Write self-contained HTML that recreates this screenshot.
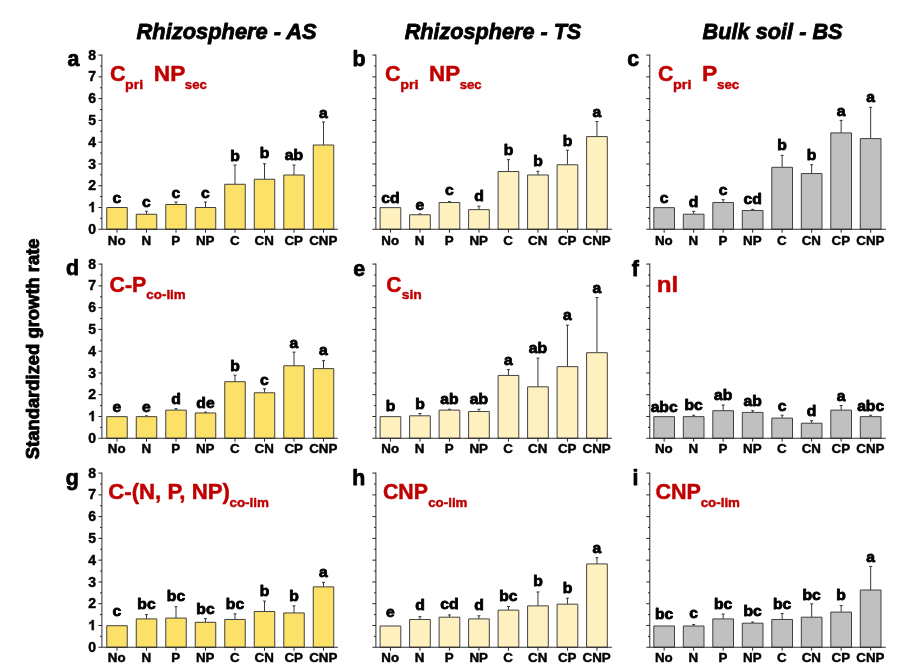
<!DOCTYPE html>
<html><head><meta charset="utf-8"><title>Standardized growth rate</title>
<style>html,body{margin:0;padding:0;background:#fff}svg{display:block;will-change:transform}text{stroke-width:0.45px;paint-order:stroke fill}text[fill="#000"]{stroke:#000}text.L{stroke-width:0.8px}text.Y{stroke-width:0.9px}text.T{stroke-width:0.8px}text.P{stroke-width:0.75px}text[fill="#C00000"]{stroke:#C00000}</style></head>
<body>
<svg width="902" height="672" viewBox="0 0 902 672" font-family="'Liberation Sans', sans-serif" font-weight="bold" stroke-linejoin="round">
<rect width="902" height="672" fill="#fff"/>
<text x="226.6" y="38.9" class="T" font-size="21.33" font-style="italic" text-anchor="middle" textLength="180.2" lengthAdjust="spacingAndGlyphs" fill="#000">Rhizosphere - AS</text>
<text x="493.0" y="38.9" class="T" font-size="21.33" font-style="italic" text-anchor="middle" textLength="176.6" lengthAdjust="spacingAndGlyphs" fill="#000">Rhizosphere - TS</text>
<text x="772.6" y="38.9" class="T" font-size="21.33" font-style="italic" text-anchor="middle" textLength="140.0" lengthAdjust="spacingAndGlyphs" fill="#000">Bulk soil - BS</text>
<text transform="translate(38.6,348.8) rotate(-90)" class="Y" font-size="18.6" textLength="220.8" lengthAdjust="spacingAndGlyphs" text-anchor="middle" fill="#000">Standardized growth rate</text>
<g><rect x="106.75" y="207.50" width="20.5" height="21.75" fill="#FCE168" stroke="#383838" stroke-width="0.95"/><text class="L" x="117.00" y="202.50" font-size="14.67" text-anchor="middle" textLength="8.73" lengthAdjust="spacingAndGlyphs" fill="#000">c</text><text x="116.70" y="245.45" font-size="13.33" text-anchor="middle" fill="#000">No</text><path d="M117.00 229.25v3.4" stroke="#222" stroke-width="1"/><path d="M146.50 214.25V211.25M145.00 211.25H148.00" stroke="#222" stroke-width="0.9" fill="none"/><rect x="136.25" y="214.25" width="20.5" height="15.00" fill="#FCE168" stroke="#383838" stroke-width="0.95"/><text class="L" x="146.50" y="207.00" font-size="14.67" text-anchor="middle" textLength="8.73" lengthAdjust="spacingAndGlyphs" fill="#000">c</text><text x="146.20" y="245.45" font-size="13.33" text-anchor="middle" fill="#000">N</text><path d="M146.50 229.25v3.4" stroke="#222" stroke-width="1"/><path d="M176.00 204.50V202.00M174.50 202.00H177.50" stroke="#222" stroke-width="0.9" fill="none"/><rect x="165.75" y="204.50" width="20.5" height="24.75" fill="#FCE168" stroke="#383838" stroke-width="0.95"/><text class="L" x="176.00" y="197.50" font-size="14.67" text-anchor="middle" textLength="8.73" lengthAdjust="spacingAndGlyphs" fill="#000">c</text><text x="175.70" y="245.45" font-size="13.33" text-anchor="middle" fill="#000">P</text><path d="M176.00 229.25v3.4" stroke="#222" stroke-width="1"/><path d="M205.50 207.50V202.00M204.00 202.00H207.00" stroke="#222" stroke-width="0.9" fill="none"/><rect x="195.25" y="207.50" width="20.5" height="21.75" fill="#FCE168" stroke="#383838" stroke-width="0.95"/><text class="L" x="205.50" y="197.50" font-size="14.67" text-anchor="middle" textLength="8.73" lengthAdjust="spacingAndGlyphs" fill="#000">c</text><text x="205.20" y="245.45" font-size="13.33" text-anchor="middle" fill="#000">NP</text><path d="M205.50 229.25v3.4" stroke="#222" stroke-width="1"/><path d="M235.00 184.25V165.00M233.50 165.00H236.50" stroke="#222" stroke-width="0.9" fill="none"/><rect x="224.75" y="184.25" width="20.5" height="45.00" fill="#FCE168" stroke="#383838" stroke-width="0.95"/><text class="L" x="235.00" y="160.50" font-size="14.67" text-anchor="middle" textLength="9.59" lengthAdjust="spacingAndGlyphs" fill="#000">b</text><text x="234.70" y="245.45" font-size="13.33" text-anchor="middle" fill="#000">C</text><path d="M235.00 229.25v3.4" stroke="#222" stroke-width="1"/><path d="M264.50 179.25V163.75M263.00 163.75H266.00" stroke="#222" stroke-width="0.9" fill="none"/><rect x="254.25" y="179.25" width="20.5" height="50.00" fill="#FCE168" stroke="#383838" stroke-width="0.95"/><text class="L" x="264.50" y="158.25" font-size="14.67" text-anchor="middle" textLength="9.59" lengthAdjust="spacingAndGlyphs" fill="#000">b</text><text x="264.20" y="245.45" font-size="13.33" text-anchor="middle" fill="#000">CN</text><path d="M264.50 229.25v3.4" stroke="#222" stroke-width="1"/><path d="M294.00 175.00V165.00M292.50 165.00H295.50" stroke="#222" stroke-width="0.9" fill="none"/><rect x="283.75" y="175.00" width="20.5" height="54.25" fill="#FCE168" stroke="#383838" stroke-width="0.95"/><text class="L" x="294.00" y="160.00" font-size="14.67" text-anchor="middle" textLength="18.32" lengthAdjust="spacingAndGlyphs" fill="#000">ab</text><text x="293.70" y="245.45" font-size="13.33" text-anchor="middle" fill="#000">CP</text><path d="M294.00 229.25v3.4" stroke="#222" stroke-width="1"/><path d="M323.50 145.00V122.00M322.00 122.00H325.00" stroke="#222" stroke-width="0.9" fill="none"/><rect x="313.25" y="145.00" width="20.5" height="84.25" fill="#FCE168" stroke="#383838" stroke-width="0.95"/><text class="L" x="323.50" y="118.30" font-size="14.67" text-anchor="middle" textLength="8.73" lengthAdjust="spacingAndGlyphs" fill="#000">a</text><text x="323.20" y="245.45" font-size="13.33" text-anchor="middle" fill="#000">CNP</text><path d="M323.50 229.25v3.4" stroke="#222" stroke-width="1"/><path d="M101.90 54.59V229.25M98.40 229.25H337.90" stroke="#222" stroke-width="0.95" fill="none"/><text x="96.00" y="233.85" font-size="14" text-anchor="end" fill="#000">0</text><path d="M100.10 218.37H101.90" stroke="#222" stroke-width="1"/><path d="M98.40 207.48H101.90" stroke="#222" stroke-width="1"/><path transform="translate(88.21,212.08) scale(0.006836,-0.006836)" d="M806 0H525V1059Q371 915 162 846V1101Q272 1137 401 1237.5Q530 1338 578 1472H806Z" fill="#000" stroke="#000" stroke-width="65.8" stroke-linejoin="round"/><path d="M100.10 196.59H101.90" stroke="#222" stroke-width="1"/><path d="M98.40 185.71H101.90" stroke="#222" stroke-width="1"/><text x="96.00" y="190.31" font-size="14" text-anchor="end" fill="#000">2</text><path d="M100.10 174.82H101.90" stroke="#222" stroke-width="1"/><path d="M98.40 163.94H101.90" stroke="#222" stroke-width="1"/><text x="96.00" y="168.54" font-size="14" text-anchor="end" fill="#000">3</text><path d="M100.10 153.06H101.90" stroke="#222" stroke-width="1"/><path d="M98.40 142.17H101.90" stroke="#222" stroke-width="1"/><text x="96.00" y="146.77" font-size="14" text-anchor="end" fill="#000">4</text><path d="M100.10 131.28H101.90" stroke="#222" stroke-width="1"/><path d="M98.40 120.40H101.90" stroke="#222" stroke-width="1"/><text x="96.00" y="125.00" font-size="14" text-anchor="end" fill="#000">5</text><path d="M100.10 109.52H101.90" stroke="#222" stroke-width="1"/><path d="M98.40 98.63H101.90" stroke="#222" stroke-width="1"/><text x="96.00" y="103.23" font-size="14" text-anchor="end" fill="#000">6</text><path d="M100.10 87.75H101.90" stroke="#222" stroke-width="1"/><path d="M98.40 76.86H101.90" stroke="#222" stroke-width="1"/><text x="96.00" y="81.46" font-size="14" text-anchor="end" fill="#000">7</text><path d="M100.10 65.97H101.90" stroke="#222" stroke-width="1"/><path d="M98.40 55.09H101.90" stroke="#222" stroke-width="1"/><text x="96.00" y="59.69" font-size="14" text-anchor="end" fill="#000">8</text><text class="P" x="67.44999999999999" y="66.0" font-size="21.33" fill="#000">a</text><text x="110.01" y="81.20" font-size="21.33" textLength="15.68" lengthAdjust="spacingAndGlyphs" fill="#C00000">C</text><text x="125.07" y="89.00" font-size="13.33" textLength="18.1" lengthAdjust="spacingAndGlyphs" fill="#C00000">pri</text><text x="153.84" y="81.20" font-size="21.33" textLength="31.52" lengthAdjust="spacingAndGlyphs" fill="#C00000">NP</text><text x="184.83" y="89.00" font-size="13.33" textLength="21.98" lengthAdjust="spacingAndGlyphs" fill="#C00000">sec</text></g>
<g><rect x="380.10" y="207.65" width="20.7" height="21.60" fill="#FEF1BF" stroke="#383838" stroke-width="0.95"/><text class="L" x="390.45" y="202.82" font-size="14.67" text-anchor="middle" textLength="18.32" lengthAdjust="spacingAndGlyphs" fill="#000">cd</text><text x="390.15" y="245.45" font-size="13.33" text-anchor="middle" fill="#000">No</text><path d="M390.45 229.25v3.4" stroke="#222" stroke-width="1"/><path d="M419.95 214.76V213.90M418.45 213.90H421.45" stroke="#222" stroke-width="0.9" fill="none"/><rect x="409.60" y="214.76" width="20.7" height="14.49" fill="#FEF1BF" stroke="#383838" stroke-width="0.95"/><text class="L" x="419.95" y="210.21" font-size="14.67" text-anchor="middle" textLength="8.73" lengthAdjust="spacingAndGlyphs" fill="#000">e</text><text x="419.65" y="245.45" font-size="13.33" text-anchor="middle" fill="#000">N</text><path d="M419.95 229.25v3.4" stroke="#222" stroke-width="1"/><path d="M449.45 202.53V201.68M447.95 201.68H450.95" stroke="#222" stroke-width="0.9" fill="none"/><rect x="439.10" y="202.53" width="20.7" height="26.72" fill="#FEF1BF" stroke="#383838" stroke-width="0.95"/><text class="L" x="449.45" y="195.15" font-size="14.67" text-anchor="middle" textLength="8.73" lengthAdjust="spacingAndGlyphs" fill="#000">c</text><text x="449.15" y="245.45" font-size="13.33" text-anchor="middle" fill="#000">P</text><path d="M449.45 229.25v3.4" stroke="#222" stroke-width="1"/><path d="M478.95 209.64V206.23M477.45 206.23H480.45" stroke="#222" stroke-width="0.9" fill="none"/><rect x="468.60" y="209.64" width="20.7" height="19.61" fill="#FEF1BF" stroke="#383838" stroke-width="0.95"/><text class="L" x="478.95" y="201.40" font-size="14.67" text-anchor="middle" textLength="9.59" lengthAdjust="spacingAndGlyphs" fill="#000">d</text><text x="478.65" y="245.45" font-size="13.33" text-anchor="middle" fill="#000">NP</text><path d="M478.95 229.25v3.4" stroke="#222" stroke-width="1"/><path d="M508.45 171.56V159.62M506.95 159.62H509.95" stroke="#222" stroke-width="0.9" fill="none"/><rect x="498.10" y="171.56" width="20.7" height="57.69" fill="#FEF1BF" stroke="#383838" stroke-width="0.95"/><text class="L" x="508.45" y="155.36" font-size="14.67" text-anchor="middle" textLength="9.59" lengthAdjust="spacingAndGlyphs" fill="#000">b</text><text x="508.15" y="245.45" font-size="13.33" text-anchor="middle" fill="#000">C</text><path d="M508.45 229.25v3.4" stroke="#222" stroke-width="1"/><path d="M537.95 174.97V171.27M536.45 171.27H539.45" stroke="#222" stroke-width="0.9" fill="none"/><rect x="527.60" y="174.97" width="20.7" height="54.28" fill="#FEF1BF" stroke="#383838" stroke-width="0.95"/><text class="L" x="537.95" y="166.16" font-size="14.67" text-anchor="middle" textLength="9.59" lengthAdjust="spacingAndGlyphs" fill="#000">b</text><text x="537.65" y="245.45" font-size="13.33" text-anchor="middle" fill="#000">CN</text><path d="M537.95 229.25v3.4" stroke="#222" stroke-width="1"/><path d="M567.45 164.74V150.24M565.95 150.24H568.95" stroke="#222" stroke-width="0.9" fill="none"/><rect x="557.10" y="164.74" width="20.7" height="64.51" fill="#FEF1BF" stroke="#383838" stroke-width="0.95"/><text class="L" x="567.45" y="145.69" font-size="14.67" text-anchor="middle" textLength="9.59" lengthAdjust="spacingAndGlyphs" fill="#000">b</text><text x="567.15" y="245.45" font-size="13.33" text-anchor="middle" fill="#000">CP</text><path d="M567.45 229.25v3.4" stroke="#222" stroke-width="1"/><path d="M596.95 136.60V121.54M595.45 121.54H598.45" stroke="#222" stroke-width="0.9" fill="none"/><rect x="586.60" y="136.60" width="20.7" height="92.65" fill="#FEF1BF" stroke="#383838" stroke-width="0.95"/><text class="L" x="596.95" y="116.99" font-size="14.67" text-anchor="middle" textLength="8.73" lengthAdjust="spacingAndGlyphs" fill="#000">a</text><text x="596.65" y="245.45" font-size="13.33" text-anchor="middle" fill="#000">CNP</text><path d="M596.95 229.25v3.4" stroke="#222" stroke-width="1"/><path d="M375.90 54.59V229.25M372.40 229.25H611.90" stroke="#222" stroke-width="0.95" fill="none"/><path d="M374.10 218.37H375.90" stroke="#222" stroke-width="1"/><path d="M372.40 207.48H375.90" stroke="#222" stroke-width="1"/><path d="M374.10 196.59H375.90" stroke="#222" stroke-width="1"/><path d="M372.40 185.71H375.90" stroke="#222" stroke-width="1"/><path d="M374.10 174.82H375.90" stroke="#222" stroke-width="1"/><path d="M372.40 163.94H375.90" stroke="#222" stroke-width="1"/><path d="M374.10 153.06H375.90" stroke="#222" stroke-width="1"/><path d="M372.40 142.17H375.90" stroke="#222" stroke-width="1"/><path d="M374.10 131.28H375.90" stroke="#222" stroke-width="1"/><path d="M372.40 120.40H375.90" stroke="#222" stroke-width="1"/><path d="M374.10 109.52H375.90" stroke="#222" stroke-width="1"/><path d="M372.40 98.63H375.90" stroke="#222" stroke-width="1"/><path d="M374.10 87.75H375.90" stroke="#222" stroke-width="1"/><path d="M372.40 76.86H375.90" stroke="#222" stroke-width="1"/><path d="M374.10 65.97H375.90" stroke="#222" stroke-width="1"/><path d="M372.40 55.09H375.90" stroke="#222" stroke-width="1"/><text class="P" x="352.45000000000005" y="65.8" font-size="21.33" fill="#000">b</text><text x="384.92" y="81.00" font-size="21.33" textLength="15.57" lengthAdjust="spacingAndGlyphs" fill="#C00000">C</text><text x="400.16" y="88.80" font-size="13.33" textLength="18.32" lengthAdjust="spacingAndGlyphs" fill="#C00000">pri</text><text x="429.06" y="81.00" font-size="21.33" textLength="31.09" lengthAdjust="spacingAndGlyphs" fill="#C00000">NP</text><text x="459.73" y="88.80" font-size="13.33" textLength="21.88" lengthAdjust="spacingAndGlyphs" fill="#C00000">sec</text></g>
<g><rect x="653.80" y="207.65" width="20.7" height="21.60" fill="#C0C0C0" stroke="#383838" stroke-width="0.95"/><text class="L" x="664.15" y="202.53" font-size="14.67" text-anchor="middle" textLength="8.73" lengthAdjust="spacingAndGlyphs" fill="#000">c</text><text x="663.85" y="245.45" font-size="13.33" text-anchor="middle" fill="#000">No</text><path d="M664.15 229.25v3.4" stroke="#222" stroke-width="1"/><path d="M693.65 214.19V211.35M692.15 211.35H695.15" stroke="#222" stroke-width="0.9" fill="none"/><rect x="683.30" y="214.19" width="20.7" height="15.06" fill="#C0C0C0" stroke="#383838" stroke-width="0.95"/><text class="L" x="693.65" y="206.51" font-size="14.67" text-anchor="middle" textLength="9.59" lengthAdjust="spacingAndGlyphs" fill="#000">d</text><text x="693.35" y="245.45" font-size="13.33" text-anchor="middle" fill="#000">N</text><path d="M693.65 229.25v3.4" stroke="#222" stroke-width="1"/><path d="M723.15 202.53V199.69M721.65 199.69H724.65" stroke="#222" stroke-width="0.9" fill="none"/><rect x="712.80" y="202.53" width="20.7" height="26.72" fill="#C0C0C0" stroke="#383838" stroke-width="0.95"/><text class="L" x="723.15" y="195.15" font-size="14.67" text-anchor="middle" textLength="8.73" lengthAdjust="spacingAndGlyphs" fill="#000">c</text><text x="722.85" y="245.45" font-size="13.33" text-anchor="middle" fill="#000">P</text><path d="M723.15 229.25v3.4" stroke="#222" stroke-width="1"/><path d="M752.65 210.49V209.36M751.15 209.36H754.15" stroke="#222" stroke-width="0.9" fill="none"/><rect x="742.30" y="210.49" width="20.7" height="18.76" fill="#C0C0C0" stroke="#383838" stroke-width="0.95"/><text class="L" x="752.65" y="204.24" font-size="14.67" text-anchor="middle" textLength="18.32" lengthAdjust="spacingAndGlyphs" fill="#000">cd</text><text x="752.35" y="245.45" font-size="13.33" text-anchor="middle" fill="#000">NP</text><path d="M752.65 229.25v3.4" stroke="#222" stroke-width="1"/><path d="M782.15 167.29V155.36M780.65 155.36H783.65" stroke="#222" stroke-width="0.9" fill="none"/><rect x="771.80" y="167.29" width="20.7" height="61.96" fill="#C0C0C0" stroke="#383838" stroke-width="0.95"/><text class="L" x="782.15" y="150.24" font-size="14.67" text-anchor="middle" textLength="9.59" lengthAdjust="spacingAndGlyphs" fill="#000">b</text><text x="781.85" y="245.45" font-size="13.33" text-anchor="middle" fill="#000">C</text><path d="M782.15 229.25v3.4" stroke="#222" stroke-width="1"/><path d="M811.65 173.55V164.74M810.15 164.74H813.15" stroke="#222" stroke-width="0.9" fill="none"/><rect x="801.30" y="173.55" width="20.7" height="55.70" fill="#C0C0C0" stroke="#383838" stroke-width="0.95"/><text class="L" x="811.65" y="159.62" font-size="14.67" text-anchor="middle" textLength="9.59" lengthAdjust="spacingAndGlyphs" fill="#000">b</text><text x="811.35" y="245.45" font-size="13.33" text-anchor="middle" fill="#000">CN</text><path d="M811.65 229.25v3.4" stroke="#222" stroke-width="1"/><path d="M841.15 132.90V120.40M839.65 120.40H842.65" stroke="#222" stroke-width="0.9" fill="none"/><rect x="830.80" y="132.90" width="20.7" height="96.35" fill="#C0C0C0" stroke="#383838" stroke-width="0.95"/><text class="L" x="841.15" y="115.57" font-size="14.67" text-anchor="middle" textLength="8.73" lengthAdjust="spacingAndGlyphs" fill="#000">a</text><text x="840.85" y="245.45" font-size="13.33" text-anchor="middle" fill="#000">CP</text><path d="M841.15 229.25v3.4" stroke="#222" stroke-width="1"/><path d="M870.65 138.59V107.33M869.15 107.33H872.15" stroke="#222" stroke-width="0.9" fill="none"/><rect x="860.30" y="138.59" width="20.7" height="90.66" fill="#C0C0C0" stroke="#383838" stroke-width="0.95"/><text class="L" x="870.65" y="102.21" font-size="14.67" text-anchor="middle" textLength="8.73" lengthAdjust="spacingAndGlyphs" fill="#000">a</text><text x="870.35" y="245.45" font-size="13.33" text-anchor="middle" fill="#000">CNP</text><path d="M870.65 229.25v3.4" stroke="#222" stroke-width="1"/><path d="M649.80 54.59V229.25M646.30 229.25H885.80" stroke="#222" stroke-width="0.95" fill="none"/><path d="M648.00 218.37H649.80" stroke="#222" stroke-width="1"/><path d="M646.30 207.48H649.80" stroke="#222" stroke-width="1"/><path d="M648.00 196.59H649.80" stroke="#222" stroke-width="1"/><path d="M646.30 185.71H649.80" stroke="#222" stroke-width="1"/><path d="M648.00 174.82H649.80" stroke="#222" stroke-width="1"/><path d="M646.30 163.94H649.80" stroke="#222" stroke-width="1"/><path d="M648.00 153.06H649.80" stroke="#222" stroke-width="1"/><path d="M646.30 142.17H649.80" stroke="#222" stroke-width="1"/><path d="M648.00 131.28H649.80" stroke="#222" stroke-width="1"/><path d="M646.30 120.40H649.80" stroke="#222" stroke-width="1"/><path d="M648.00 109.52H649.80" stroke="#222" stroke-width="1"/><path d="M646.30 98.63H649.80" stroke="#222" stroke-width="1"/><path d="M648.00 87.75H649.80" stroke="#222" stroke-width="1"/><path d="M646.30 76.86H649.80" stroke="#222" stroke-width="1"/><path d="M648.00 65.97H649.80" stroke="#222" stroke-width="1"/><path d="M646.30 55.09H649.80" stroke="#222" stroke-width="1"/><text class="P" x="627.25" y="65.9" font-size="21.33" fill="#000">c</text><text x="657.92" y="81.00" font-size="21.33" textLength="15.46" lengthAdjust="spacingAndGlyphs" fill="#C00000">C</text><text x="673.05" y="88.80" font-size="13.33" textLength="18.44" lengthAdjust="spacingAndGlyphs" fill="#C00000">pri</text><text x="702.03" y="81.00" font-size="21.33" textLength="15.23" lengthAdjust="spacingAndGlyphs" fill="#C00000">P</text><text x="717.02" y="88.80" font-size="13.33" textLength="22.29" lengthAdjust="spacingAndGlyphs" fill="#C00000">sec</text></g>
<g><rect x="106.75" y="416.65" width="20.5" height="21.60" fill="#FCE168" stroke="#383838" stroke-width="0.95"/><text class="L" x="117.00" y="411.82" font-size="14.67" text-anchor="middle" textLength="8.73" lengthAdjust="spacingAndGlyphs" fill="#000">e</text><text x="116.70" y="453.45" font-size="13.33" text-anchor="middle" fill="#000">No</text><path d="M117.00 438.25v3.4" stroke="#222" stroke-width="1"/><path d="M146.50 416.65V415.80M145.00 415.80H148.00" stroke="#222" stroke-width="0.9" fill="none"/><rect x="136.25" y="416.65" width="20.5" height="21.60" fill="#FCE168" stroke="#383838" stroke-width="0.95"/><text class="L" x="146.50" y="411.82" font-size="14.67" text-anchor="middle" textLength="8.73" lengthAdjust="spacingAndGlyphs" fill="#000">e</text><text x="146.20" y="453.45" font-size="13.33" text-anchor="middle" fill="#000">N</text><path d="M146.50 438.25v3.4" stroke="#222" stroke-width="1"/><path d="M176.00 410.11V408.69M174.50 408.69H177.50" stroke="#222" stroke-width="0.9" fill="none"/><rect x="165.75" y="410.11" width="20.5" height="28.14" fill="#FCE168" stroke="#383838" stroke-width="0.95"/><text class="L" x="176.00" y="404.43" font-size="14.67" text-anchor="middle" textLength="9.59" lengthAdjust="spacingAndGlyphs" fill="#000">d</text><text x="175.70" y="453.45" font-size="13.33" text-anchor="middle" fill="#000">P</text><path d="M176.00 438.25v3.4" stroke="#222" stroke-width="1"/><path d="M205.50 412.96V412.10M204.00 412.10H207.00" stroke="#222" stroke-width="0.9" fill="none"/><rect x="195.25" y="412.96" width="20.5" height="25.29" fill="#FCE168" stroke="#383838" stroke-width="0.95"/><text class="L" x="205.50" y="407.56" font-size="14.67" text-anchor="middle" textLength="18.32" lengthAdjust="spacingAndGlyphs" fill="#000">de</text><text x="205.20" y="453.45" font-size="13.33" text-anchor="middle" fill="#000">NP</text><path d="M205.50 438.25v3.4" stroke="#222" stroke-width="1"/><path d="M235.00 381.69V375.16M233.50 375.16H236.50" stroke="#222" stroke-width="0.9" fill="none"/><rect x="224.75" y="381.69" width="20.5" height="56.56" fill="#FCE168" stroke="#383838" stroke-width="0.95"/><text class="L" x="235.00" y="370.61" font-size="14.67" text-anchor="middle" textLength="9.59" lengthAdjust="spacingAndGlyphs" fill="#000">b</text><text x="234.70" y="453.45" font-size="13.33" text-anchor="middle" fill="#000">C</text><path d="M235.00 438.25v3.4" stroke="#222" stroke-width="1"/><path d="M264.50 392.78V388.80M263.00 388.80H266.00" stroke="#222" stroke-width="0.9" fill="none"/><rect x="254.25" y="392.78" width="20.5" height="45.47" fill="#FCE168" stroke="#383838" stroke-width="0.95"/><text class="L" x="264.50" y="384.54" font-size="14.67" text-anchor="middle" textLength="8.73" lengthAdjust="spacingAndGlyphs" fill="#000">c</text><text x="264.20" y="453.45" font-size="13.33" text-anchor="middle" fill="#000">CN</text><path d="M264.50 438.25v3.4" stroke="#222" stroke-width="1"/><path d="M294.00 365.78V352.14M292.50 352.14H295.50" stroke="#222" stroke-width="0.9" fill="none"/><rect x="283.75" y="365.78" width="20.5" height="72.47" fill="#FCE168" stroke="#383838" stroke-width="0.95"/><text class="L" x="294.00" y="347.87" font-size="14.67" text-anchor="middle" textLength="8.73" lengthAdjust="spacingAndGlyphs" fill="#000">a</text><text x="293.70" y="453.45" font-size="13.33" text-anchor="middle" fill="#000">CP</text><path d="M294.00 438.25v3.4" stroke="#222" stroke-width="1"/><path d="M323.50 368.62V360.66M322.00 360.66H325.00" stroke="#222" stroke-width="0.9" fill="none"/><rect x="313.25" y="368.62" width="20.5" height="69.63" fill="#FCE168" stroke="#383838" stroke-width="0.95"/><text class="L" x="323.50" y="355.26" font-size="14.67" text-anchor="middle" textLength="8.73" lengthAdjust="spacingAndGlyphs" fill="#000">a</text><text x="323.20" y="453.45" font-size="13.33" text-anchor="middle" fill="#000">CNP</text><path d="M323.50 438.25v3.4" stroke="#222" stroke-width="1"/><path d="M101.90 263.59V438.25M98.40 438.25H337.90" stroke="#222" stroke-width="0.95" fill="none"/><text x="96.00" y="442.85" font-size="14" text-anchor="end" fill="#000">0</text><path d="M100.10 427.37H101.90" stroke="#222" stroke-width="1"/><path d="M98.40 416.48H101.90" stroke="#222" stroke-width="1"/><path transform="translate(88.21,421.08) scale(0.006836,-0.006836)" d="M806 0H525V1059Q371 915 162 846V1101Q272 1137 401 1237.5Q530 1338 578 1472H806Z" fill="#000" stroke="#000" stroke-width="65.8" stroke-linejoin="round"/><path d="M100.10 405.60H101.90" stroke="#222" stroke-width="1"/><path d="M98.40 394.71H101.90" stroke="#222" stroke-width="1"/><text x="96.00" y="399.31" font-size="14" text-anchor="end" fill="#000">2</text><path d="M100.10 383.82H101.90" stroke="#222" stroke-width="1"/><path d="M98.40 372.94H101.90" stroke="#222" stroke-width="1"/><text x="96.00" y="377.54" font-size="14" text-anchor="end" fill="#000">3</text><path d="M100.10 362.06H101.90" stroke="#222" stroke-width="1"/><path d="M98.40 351.17H101.90" stroke="#222" stroke-width="1"/><text x="96.00" y="355.77" font-size="14" text-anchor="end" fill="#000">4</text><path d="M100.10 340.28H101.90" stroke="#222" stroke-width="1"/><path d="M98.40 329.40H101.90" stroke="#222" stroke-width="1"/><text x="96.00" y="334.00" font-size="14" text-anchor="end" fill="#000">5</text><path d="M100.10 318.51H101.90" stroke="#222" stroke-width="1"/><path d="M98.40 307.63H101.90" stroke="#222" stroke-width="1"/><text x="96.00" y="312.23" font-size="14" text-anchor="end" fill="#000">6</text><path d="M100.10 296.75H101.90" stroke="#222" stroke-width="1"/><path d="M98.40 285.86H101.90" stroke="#222" stroke-width="1"/><text x="96.00" y="290.46" font-size="14" text-anchor="end" fill="#000">7</text><path d="M100.10 274.98H101.90" stroke="#222" stroke-width="1"/><path d="M98.40 264.09H101.90" stroke="#222" stroke-width="1"/><text x="96.00" y="268.69" font-size="14" text-anchor="end" fill="#000">8</text><text class="P" x="66.05" y="275.4" font-size="21.33" fill="#000">d</text><text x="109.57" y="291.50" font-size="21.33" textLength="36.73" lengthAdjust="spacingAndGlyphs" fill="#C00000">C-P</text><text x="146.32" y="299.00" font-size="13.33" textLength="39.41" lengthAdjust="spacingAndGlyphs" fill="#C00000">co-lim</text></g>
<g><rect x="380.10" y="416.65" width="20.7" height="21.60" fill="#FEF1BF" stroke="#383838" stroke-width="0.95"/><text class="L" x="390.45" y="410.68" font-size="14.67" text-anchor="middle" textLength="9.59" lengthAdjust="spacingAndGlyphs" fill="#000">b</text><text x="390.15" y="453.45" font-size="13.33" text-anchor="middle" fill="#000">No</text><path d="M390.45 438.25v3.4" stroke="#222" stroke-width="1"/><path d="M419.95 415.80V413.52M418.45 413.52H421.45" stroke="#222" stroke-width="0.9" fill="none"/><rect x="409.60" y="415.80" width="20.7" height="22.45" fill="#FEF1BF" stroke="#383838" stroke-width="0.95"/><text class="L" x="419.95" y="409.26" font-size="14.67" text-anchor="middle" textLength="9.59" lengthAdjust="spacingAndGlyphs" fill="#000">b</text><text x="419.65" y="453.45" font-size="13.33" text-anchor="middle" fill="#000">N</text><path d="M419.95 438.25v3.4" stroke="#222" stroke-width="1"/><path d="M449.45 410.11V409.26M447.95 409.26H450.95" stroke="#222" stroke-width="0.9" fill="none"/><rect x="439.10" y="410.11" width="20.7" height="28.14" fill="#FEF1BF" stroke="#383838" stroke-width="0.95"/><text class="L" x="449.45" y="404.15" font-size="14.67" text-anchor="middle" textLength="18.32" lengthAdjust="spacingAndGlyphs" fill="#000">ab</text><text x="449.15" y="453.45" font-size="13.33" text-anchor="middle" fill="#000">P</text><path d="M449.45 438.25v3.4" stroke="#222" stroke-width="1"/><path d="M478.95 411.53V409.26M477.45 409.26H480.45" stroke="#222" stroke-width="0.9" fill="none"/><rect x="468.60" y="411.53" width="20.7" height="26.72" fill="#FEF1BF" stroke="#383838" stroke-width="0.95"/><text class="L" x="478.95" y="404.43" font-size="14.67" text-anchor="middle" textLength="18.32" lengthAdjust="spacingAndGlyphs" fill="#000">ab</text><text x="478.65" y="453.45" font-size="13.33" text-anchor="middle" fill="#000">NP</text><path d="M478.95 438.25v3.4" stroke="#222" stroke-width="1"/><path d="M508.45 375.44V369.47M506.95 369.47H509.95" stroke="#222" stroke-width="0.9" fill="none"/><rect x="498.10" y="375.44" width="20.7" height="62.81" fill="#FEF1BF" stroke="#383838" stroke-width="0.95"/><text class="L" x="508.45" y="364.64" font-size="14.67" text-anchor="middle" textLength="8.73" lengthAdjust="spacingAndGlyphs" fill="#000">a</text><text x="508.15" y="453.45" font-size="13.33" text-anchor="middle" fill="#000">C</text><path d="M508.45 438.25v3.4" stroke="#222" stroke-width="1"/><path d="M537.95 386.81V358.10M536.45 358.10H539.45" stroke="#222" stroke-width="0.9" fill="none"/><rect x="527.60" y="386.81" width="20.7" height="51.44" fill="#FEF1BF" stroke="#383838" stroke-width="0.95"/><text class="L" x="537.95" y="352.99" font-size="14.67" text-anchor="middle" textLength="18.32" lengthAdjust="spacingAndGlyphs" fill="#000">ab</text><text x="537.65" y="453.45" font-size="13.33" text-anchor="middle" fill="#000">CN</text><path d="M537.95 438.25v3.4" stroke="#222" stroke-width="1"/><path d="M567.45 366.63V325.14M565.95 325.14H568.95" stroke="#222" stroke-width="0.9" fill="none"/><rect x="557.10" y="366.63" width="20.7" height="71.62" fill="#FEF1BF" stroke="#383838" stroke-width="0.95"/><text class="L" x="567.45" y="320.02" font-size="14.67" text-anchor="middle" textLength="8.73" lengthAdjust="spacingAndGlyphs" fill="#000">a</text><text x="567.15" y="453.45" font-size="13.33" text-anchor="middle" fill="#000">CP</text><path d="M567.45 438.25v3.4" stroke="#222" stroke-width="1"/><path d="M596.95 352.70V297.57M595.45 297.57H598.45" stroke="#222" stroke-width="0.9" fill="none"/><rect x="586.60" y="352.70" width="20.7" height="85.55" fill="#FEF1BF" stroke="#383838" stroke-width="0.95"/><text class="L" x="596.95" y="293.31" font-size="14.67" text-anchor="middle" textLength="8.73" lengthAdjust="spacingAndGlyphs" fill="#000">a</text><text x="596.65" y="453.45" font-size="13.33" text-anchor="middle" fill="#000">CNP</text><path d="M596.95 438.25v3.4" stroke="#222" stroke-width="1"/><path d="M375.90 263.59V438.25M372.40 438.25H611.90" stroke="#222" stroke-width="0.95" fill="none"/><path d="M374.10 427.37H375.90" stroke="#222" stroke-width="1"/><path d="M372.40 416.48H375.90" stroke="#222" stroke-width="1"/><path d="M374.10 405.60H375.90" stroke="#222" stroke-width="1"/><path d="M372.40 394.71H375.90" stroke="#222" stroke-width="1"/><path d="M374.10 383.82H375.90" stroke="#222" stroke-width="1"/><path d="M372.40 372.94H375.90" stroke="#222" stroke-width="1"/><path d="M374.10 362.06H375.90" stroke="#222" stroke-width="1"/><path d="M372.40 351.17H375.90" stroke="#222" stroke-width="1"/><path d="M374.10 340.28H375.90" stroke="#222" stroke-width="1"/><path d="M372.40 329.40H375.90" stroke="#222" stroke-width="1"/><path d="M374.10 318.51H375.90" stroke="#222" stroke-width="1"/><path d="M372.40 307.63H375.90" stroke="#222" stroke-width="1"/><path d="M374.10 296.75H375.90" stroke="#222" stroke-width="1"/><path d="M372.40 285.86H375.90" stroke="#222" stroke-width="1"/><path d="M374.10 274.98H375.90" stroke="#222" stroke-width="1"/><path d="M372.40 264.09H375.90" stroke="#222" stroke-width="1"/><text class="P" x="353.25" y="275.6" font-size="21.33" fill="#000">e</text><text x="386.23" y="291.50" font-size="21.33" textLength="15.24" lengthAdjust="spacingAndGlyphs" fill="#C00000">C</text><text x="401.7" y="299.00" font-size="13.33" textLength="20.17" lengthAdjust="spacingAndGlyphs" fill="#C00000">sin</text></g>
<g><rect x="653.80" y="416.65" width="20.7" height="21.60" fill="#C0C0C0" stroke="#383838" stroke-width="0.95"/><text class="L" x="664.15" y="411.82" font-size="14.67" text-anchor="middle" textLength="27.05" lengthAdjust="spacingAndGlyphs" fill="#000">abc</text><text x="663.85" y="453.45" font-size="13.33" text-anchor="middle" fill="#000">No</text><path d="M664.15 438.25v3.4" stroke="#222" stroke-width="1"/><path d="M693.65 416.65V415.23M692.15 415.23H695.15" stroke="#222" stroke-width="0.9" fill="none"/><rect x="683.30" y="416.65" width="20.7" height="21.60" fill="#C0C0C0" stroke="#383838" stroke-width="0.95"/><text class="L" x="693.65" y="409.83" font-size="14.67" text-anchor="middle" textLength="18.32" lengthAdjust="spacingAndGlyphs" fill="#000">bc</text><text x="693.35" y="453.45" font-size="13.33" text-anchor="middle" fill="#000">N</text><path d="M693.65 438.25v3.4" stroke="#222" stroke-width="1"/><path d="M723.15 410.68V405.00M721.65 405.00H724.65" stroke="#222" stroke-width="0.9" fill="none"/><rect x="712.80" y="410.68" width="20.7" height="27.57" fill="#C0C0C0" stroke="#383838" stroke-width="0.95"/><text class="L" x="723.15" y="400.45" font-size="14.67" text-anchor="middle" textLength="18.32" lengthAdjust="spacingAndGlyphs" fill="#000">ab</text><text x="722.85" y="453.45" font-size="13.33" text-anchor="middle" fill="#000">P</text><path d="M723.15 438.25v3.4" stroke="#222" stroke-width="1"/><path d="M752.65 412.39V410.68M751.15 410.68H754.15" stroke="#222" stroke-width="0.9" fill="none"/><rect x="742.30" y="412.39" width="20.7" height="25.86" fill="#C0C0C0" stroke="#383838" stroke-width="0.95"/><text class="L" x="752.65" y="406.13" font-size="14.67" text-anchor="middle" textLength="18.32" lengthAdjust="spacingAndGlyphs" fill="#000">ab</text><text x="752.35" y="453.45" font-size="13.33" text-anchor="middle" fill="#000">NP</text><path d="M752.65 438.25v3.4" stroke="#222" stroke-width="1"/><path d="M782.15 418.07V415.23M780.65 415.23H783.65" stroke="#222" stroke-width="0.9" fill="none"/><rect x="771.80" y="418.07" width="20.7" height="20.18" fill="#C0C0C0" stroke="#383838" stroke-width="0.95"/><text class="L" x="782.15" y="410.68" font-size="14.67" text-anchor="middle" textLength="8.73" lengthAdjust="spacingAndGlyphs" fill="#000">c</text><text x="781.85" y="453.45" font-size="13.33" text-anchor="middle" fill="#000">C</text><path d="M782.15 438.25v3.4" stroke="#222" stroke-width="1"/><path d="M811.65 423.19V420.63M810.15 420.63H813.15" stroke="#222" stroke-width="0.9" fill="none"/><rect x="801.30" y="423.19" width="20.7" height="15.06" fill="#C0C0C0" stroke="#383838" stroke-width="0.95"/><text class="L" x="811.65" y="416.08" font-size="14.67" text-anchor="middle" textLength="9.59" lengthAdjust="spacingAndGlyphs" fill="#000">d</text><text x="811.35" y="453.45" font-size="13.33" text-anchor="middle" fill="#000">CN</text><path d="M811.65 438.25v3.4" stroke="#222" stroke-width="1"/><path d="M841.15 410.11V405.57M839.65 405.57H842.65" stroke="#222" stroke-width="0.9" fill="none"/><rect x="830.80" y="410.11" width="20.7" height="28.14" fill="#C0C0C0" stroke="#383838" stroke-width="0.95"/><text class="L" x="841.15" y="400.74" font-size="14.67" text-anchor="middle" textLength="8.73" lengthAdjust="spacingAndGlyphs" fill="#000">a</text><text x="840.85" y="453.45" font-size="13.33" text-anchor="middle" fill="#000">CP</text><path d="M841.15 438.25v3.4" stroke="#222" stroke-width="1"/><path d="M870.65 416.65V415.23M869.15 415.23H872.15" stroke="#222" stroke-width="0.9" fill="none"/><rect x="860.30" y="416.65" width="20.7" height="21.60" fill="#C0C0C0" stroke="#383838" stroke-width="0.95"/><text class="L" x="870.65" y="410.68" font-size="14.67" text-anchor="middle" textLength="27.05" lengthAdjust="spacingAndGlyphs" fill="#000">abc</text><text x="870.35" y="453.45" font-size="13.33" text-anchor="middle" fill="#000">CNP</text><path d="M870.65 438.25v3.4" stroke="#222" stroke-width="1"/><path d="M649.80 263.59V438.25M646.30 438.25H885.80" stroke="#222" stroke-width="0.95" fill="none"/><path d="M648.00 427.37H649.80" stroke="#222" stroke-width="1"/><path d="M646.30 416.48H649.80" stroke="#222" stroke-width="1"/><path d="M648.00 405.60H649.80" stroke="#222" stroke-width="1"/><path d="M646.30 394.71H649.80" stroke="#222" stroke-width="1"/><path d="M648.00 383.82H649.80" stroke="#222" stroke-width="1"/><path d="M646.30 372.94H649.80" stroke="#222" stroke-width="1"/><path d="M648.00 362.06H649.80" stroke="#222" stroke-width="1"/><path d="M646.30 351.17H649.80" stroke="#222" stroke-width="1"/><path d="M648.00 340.28H649.80" stroke="#222" stroke-width="1"/><path d="M646.30 329.40H649.80" stroke="#222" stroke-width="1"/><path d="M648.00 318.51H649.80" stroke="#222" stroke-width="1"/><path d="M646.30 307.63H649.80" stroke="#222" stroke-width="1"/><path d="M648.00 296.75H649.80" stroke="#222" stroke-width="1"/><path d="M646.30 285.86H649.80" stroke="#222" stroke-width="1"/><path d="M648.00 274.98H649.80" stroke="#222" stroke-width="1"/><path d="M646.30 264.09H649.80" stroke="#222" stroke-width="1"/><text class="P" x="631.65" y="275.6" font-size="21.33" fill="#000">f</text><text x="656.84" y="291.90" font-size="21.33" textLength="21.5" lengthAdjust="spacingAndGlyphs" fill="#C00000">nl</text></g>
<g><rect x="106.75" y="625.71" width="20.5" height="21.54" fill="#FCE168" stroke="#383838" stroke-width="0.95"/><text class="L" x="117.00" y="615.79" font-size="14.67" text-anchor="middle" textLength="8.73" lengthAdjust="spacingAndGlyphs" fill="#000">c</text><text x="116.70" y="662.25" font-size="13.33" text-anchor="middle" fill="#000">No</text><path d="M117.00 647.25v3.4" stroke="#222" stroke-width="1"/><path d="M146.50 618.90V614.65M145.00 614.65H148.00" stroke="#222" stroke-width="0.9" fill="none"/><rect x="136.25" y="618.90" width="20.5" height="28.35" fill="#FCE168" stroke="#383838" stroke-width="0.95"/><text class="L" x="146.50" y="609.27" font-size="14.67" text-anchor="middle" textLength="18.32" lengthAdjust="spacingAndGlyphs" fill="#000">bc</text><text x="146.20" y="662.25" font-size="13.33" text-anchor="middle" fill="#000">N</text><path d="M146.50 647.25v3.4" stroke="#222" stroke-width="1"/><path d="M176.00 618.05V606.71M174.50 606.71H177.50" stroke="#222" stroke-width="0.9" fill="none"/><rect x="165.75" y="618.05" width="20.5" height="29.20" fill="#FCE168" stroke="#383838" stroke-width="0.95"/><text class="L" x="176.00" y="600.76" font-size="14.67" text-anchor="middle" textLength="18.32" lengthAdjust="spacingAndGlyphs" fill="#000">bc</text><text x="175.70" y="662.25" font-size="13.33" text-anchor="middle" fill="#000">P</text><path d="M176.00 647.25v3.4" stroke="#222" stroke-width="1"/><path d="M205.50 622.31V618.62M204.00 618.62H207.00" stroke="#222" stroke-width="0.9" fill="none"/><rect x="195.25" y="622.31" width="20.5" height="24.94" fill="#FCE168" stroke="#383838" stroke-width="0.95"/><text class="L" x="205.50" y="613.80" font-size="14.67" text-anchor="middle" textLength="18.32" lengthAdjust="spacingAndGlyphs" fill="#000">bc</text><text x="205.20" y="662.25" font-size="13.33" text-anchor="middle" fill="#000">NP</text><path d="M205.50 647.25v3.4" stroke="#222" stroke-width="1"/><path d="M235.00 619.47V613.80M233.50 613.80H236.50" stroke="#222" stroke-width="0.9" fill="none"/><rect x="224.75" y="619.47" width="20.5" height="27.78" fill="#FCE168" stroke="#383838" stroke-width="0.95"/><text class="L" x="235.00" y="608.70" font-size="14.67" text-anchor="middle" textLength="18.32" lengthAdjust="spacingAndGlyphs" fill="#000">bc</text><text x="234.70" y="662.25" font-size="13.33" text-anchor="middle" fill="#000">C</text><path d="M235.00 647.25v3.4" stroke="#222" stroke-width="1"/><path d="M264.50 611.53V601.05M263.00 601.05H266.00" stroke="#222" stroke-width="0.9" fill="none"/><rect x="254.25" y="611.53" width="20.5" height="35.72" fill="#FCE168" stroke="#383838" stroke-width="0.95"/><text class="L" x="264.50" y="595.94" font-size="14.67" text-anchor="middle" textLength="9.59" lengthAdjust="spacingAndGlyphs" fill="#000">b</text><text x="264.20" y="662.25" font-size="13.33" text-anchor="middle" fill="#000">CN</text><path d="M264.50 647.25v3.4" stroke="#222" stroke-width="1"/><path d="M294.00 612.95V605.86M292.50 605.86H295.50" stroke="#222" stroke-width="0.9" fill="none"/><rect x="283.75" y="612.95" width="20.5" height="34.30" fill="#FCE168" stroke="#383838" stroke-width="0.95"/><text class="L" x="294.00" y="600.76" font-size="14.67" text-anchor="middle" textLength="9.59" lengthAdjust="spacingAndGlyphs" fill="#000">b</text><text x="293.70" y="662.25" font-size="13.33" text-anchor="middle" fill="#000">CP</text><path d="M294.00 647.25v3.4" stroke="#222" stroke-width="1"/><path d="M323.50 586.87V582.34M322.00 582.34H325.00" stroke="#222" stroke-width="0.9" fill="none"/><rect x="313.25" y="586.87" width="20.5" height="60.38" fill="#FCE168" stroke="#383838" stroke-width="0.95"/><text class="L" x="323.50" y="576.67" font-size="14.67" text-anchor="middle" textLength="8.73" lengthAdjust="spacingAndGlyphs" fill="#000">a</text><text x="323.20" y="662.25" font-size="13.33" text-anchor="middle" fill="#000">CNP</text><path d="M323.50 647.25v3.4" stroke="#222" stroke-width="1"/><path d="M101.90 472.59V647.25M98.40 647.25H337.90" stroke="#222" stroke-width="0.95" fill="none"/><text x="96.00" y="651.85" font-size="14" text-anchor="end" fill="#000">0</text><path d="M100.10 636.37H101.90" stroke="#222" stroke-width="1"/><path d="M98.40 625.48H101.90" stroke="#222" stroke-width="1"/><path transform="translate(88.21,630.08) scale(0.006836,-0.006836)" d="M806 0H525V1059Q371 915 162 846V1101Q272 1137 401 1237.5Q530 1338 578 1472H806Z" fill="#000" stroke="#000" stroke-width="65.8" stroke-linejoin="round"/><path d="M100.10 614.60H101.90" stroke="#222" stroke-width="1"/><path d="M98.40 603.71H101.90" stroke="#222" stroke-width="1"/><text x="96.00" y="608.31" font-size="14" text-anchor="end" fill="#000">2</text><path d="M100.10 592.83H101.90" stroke="#222" stroke-width="1"/><path d="M98.40 581.94H101.90" stroke="#222" stroke-width="1"/><text x="96.00" y="586.54" font-size="14" text-anchor="end" fill="#000">3</text><path d="M100.10 571.06H101.90" stroke="#222" stroke-width="1"/><path d="M98.40 560.17H101.90" stroke="#222" stroke-width="1"/><text x="96.00" y="564.77" font-size="14" text-anchor="end" fill="#000">4</text><path d="M100.10 549.28H101.90" stroke="#222" stroke-width="1"/><path d="M98.40 538.40H101.90" stroke="#222" stroke-width="1"/><text x="96.00" y="543.00" font-size="14" text-anchor="end" fill="#000">5</text><path d="M100.10 527.51H101.90" stroke="#222" stroke-width="1"/><path d="M98.40 516.63H101.90" stroke="#222" stroke-width="1"/><text x="96.00" y="521.23" font-size="14" text-anchor="end" fill="#000">6</text><path d="M100.10 505.75H101.90" stroke="#222" stroke-width="1"/><path d="M98.40 494.86H101.90" stroke="#222" stroke-width="1"/><text x="96.00" y="499.46" font-size="14" text-anchor="end" fill="#000">7</text><path d="M100.10 483.98H101.90" stroke="#222" stroke-width="1"/><path d="M98.40 473.09H101.90" stroke="#222" stroke-width="1"/><text x="96.00" y="477.69" font-size="14" text-anchor="end" fill="#000">8</text><text class="P" x="65.75" y="485.1" font-size="21.33" fill="#000">g</text><text x="108.29" y="498.80" font-size="21.33" textLength="121.55" lengthAdjust="spacingAndGlyphs" fill="#C00000">C-(N, P, NP)</text><text x="229.42" y="506.80" font-size="13.33" textLength="39.62" lengthAdjust="spacingAndGlyphs" fill="#C00000">co-lim</text></g>
<g><rect x="380.10" y="625.99" width="20.7" height="21.26" fill="#FEF1BF" stroke="#383838" stroke-width="0.95"/><text class="L" x="390.45" y="617.49" font-size="14.67" text-anchor="middle" textLength="8.73" lengthAdjust="spacingAndGlyphs" fill="#000">e</text><text x="390.15" y="662.25" font-size="13.33" text-anchor="middle" fill="#000">No</text><path d="M390.45 647.25v3.4" stroke="#222" stroke-width="1"/><path d="M419.95 619.47V616.64M418.45 616.64H421.45" stroke="#222" stroke-width="0.9" fill="none"/><rect x="409.60" y="619.47" width="20.7" height="27.78" fill="#FEF1BF" stroke="#383838" stroke-width="0.95"/><text class="L" x="419.95" y="610.12" font-size="14.67" text-anchor="middle" textLength="9.59" lengthAdjust="spacingAndGlyphs" fill="#000">d</text><text x="419.65" y="662.25" font-size="13.33" text-anchor="middle" fill="#000">N</text><path d="M419.95 647.25v3.4" stroke="#222" stroke-width="1"/><path d="M449.45 617.20V614.94M447.95 614.94H450.95" stroke="#222" stroke-width="0.9" fill="none"/><rect x="439.10" y="617.20" width="20.7" height="30.05" fill="#FEF1BF" stroke="#383838" stroke-width="0.95"/><text class="L" x="449.45" y="608.70" font-size="14.67" text-anchor="middle" textLength="18.32" lengthAdjust="spacingAndGlyphs" fill="#000">cd</text><text x="449.15" y="662.25" font-size="13.33" text-anchor="middle" fill="#000">P</text><path d="M449.45 647.25v3.4" stroke="#222" stroke-width="1"/><path d="M478.95 618.90V615.79M477.45 615.79H480.45" stroke="#222" stroke-width="0.9" fill="none"/><rect x="468.60" y="618.90" width="20.7" height="28.35" fill="#FEF1BF" stroke="#383838" stroke-width="0.95"/><text class="L" x="478.95" y="610.12" font-size="14.67" text-anchor="middle" textLength="9.59" lengthAdjust="spacingAndGlyphs" fill="#000">d</text><text x="478.65" y="662.25" font-size="13.33" text-anchor="middle" fill="#000">NP</text><path d="M478.95 647.25v3.4" stroke="#222" stroke-width="1"/><path d="M508.45 610.12V606.43M506.95 606.43H509.95" stroke="#222" stroke-width="0.9" fill="none"/><rect x="498.10" y="610.12" width="20.7" height="37.13" fill="#FEF1BF" stroke="#383838" stroke-width="0.95"/><text class="L" x="508.45" y="600.76" font-size="14.67" text-anchor="middle" textLength="18.32" lengthAdjust="spacingAndGlyphs" fill="#000">bc</text><text x="508.15" y="662.25" font-size="13.33" text-anchor="middle" fill="#000">C</text><path d="M508.45 647.25v3.4" stroke="#222" stroke-width="1"/><path d="M537.95 605.86V591.97M536.45 591.97H539.45" stroke="#222" stroke-width="0.9" fill="none"/><rect x="527.60" y="605.86" width="20.7" height="41.39" fill="#FEF1BF" stroke="#383838" stroke-width="0.95"/><text class="L" x="537.95" y="586.02" font-size="14.67" text-anchor="middle" textLength="9.59" lengthAdjust="spacingAndGlyphs" fill="#000">b</text><text x="537.65" y="662.25" font-size="13.33" text-anchor="middle" fill="#000">CN</text><path d="M537.95 647.25v3.4" stroke="#222" stroke-width="1"/><path d="M567.45 604.16V598.21M565.95 598.21H568.95" stroke="#222" stroke-width="0.9" fill="none"/><rect x="557.10" y="604.16" width="20.7" height="43.09" fill="#FEF1BF" stroke="#383838" stroke-width="0.95"/><text class="L" x="567.45" y="593.11" font-size="14.67" text-anchor="middle" textLength="9.59" lengthAdjust="spacingAndGlyphs" fill="#000">b</text><text x="567.15" y="662.25" font-size="13.33" text-anchor="middle" fill="#000">CP</text><path d="M567.45 647.25v3.4" stroke="#222" stroke-width="1"/><path d="M596.95 563.91V557.68M595.45 557.68H598.45" stroke="#222" stroke-width="0.9" fill="none"/><rect x="586.60" y="563.91" width="20.7" height="83.34" fill="#FEF1BF" stroke="#383838" stroke-width="0.95"/><text class="L" x="596.95" y="552.86" font-size="14.67" text-anchor="middle" textLength="8.73" lengthAdjust="spacingAndGlyphs" fill="#000">a</text><text x="596.65" y="662.25" font-size="13.33" text-anchor="middle" fill="#000">CNP</text><path d="M596.95 647.25v3.4" stroke="#222" stroke-width="1"/><path d="M375.90 472.59V647.25M372.40 647.25H611.90" stroke="#222" stroke-width="0.95" fill="none"/><path d="M374.10 636.37H375.90" stroke="#222" stroke-width="1"/><path d="M372.40 625.48H375.90" stroke="#222" stroke-width="1"/><path d="M374.10 614.60H375.90" stroke="#222" stroke-width="1"/><path d="M372.40 603.71H375.90" stroke="#222" stroke-width="1"/><path d="M374.10 592.83H375.90" stroke="#222" stroke-width="1"/><path d="M372.40 581.94H375.90" stroke="#222" stroke-width="1"/><path d="M374.10 571.06H375.90" stroke="#222" stroke-width="1"/><path d="M372.40 560.17H375.90" stroke="#222" stroke-width="1"/><path d="M374.10 549.28H375.90" stroke="#222" stroke-width="1"/><path d="M372.40 538.40H375.90" stroke="#222" stroke-width="1"/><path d="M374.10 527.51H375.90" stroke="#222" stroke-width="1"/><path d="M372.40 516.63H375.90" stroke="#222" stroke-width="1"/><path d="M374.10 505.75H375.90" stroke="#222" stroke-width="1"/><path d="M372.40 494.86H375.90" stroke="#222" stroke-width="1"/><path d="M374.10 483.98H375.90" stroke="#222" stroke-width="1"/><path d="M372.40 473.09H375.90" stroke="#222" stroke-width="1"/><text class="P" x="352.35" y="485.2" font-size="21.33" fill="#000">h</text><text x="382.93" y="498.60" font-size="21.33" textLength="44.98" lengthAdjust="spacingAndGlyphs" fill="#C00000">CNP</text><text x="428.23" y="506.90" font-size="13.33" textLength="39.2" lengthAdjust="spacingAndGlyphs" fill="#C00000">co-lim</text></g>
<g><rect x="653.80" y="625.99" width="20.7" height="21.26" fill="#C0C0C0" stroke="#383838" stroke-width="0.95"/><text class="L" x="664.15" y="619.19" font-size="14.67" text-anchor="middle" textLength="18.32" lengthAdjust="spacingAndGlyphs" fill="#000">bc</text><text x="663.85" y="662.25" font-size="13.33" text-anchor="middle" fill="#000">No</text><path d="M664.15 647.25v3.4" stroke="#222" stroke-width="1"/><path d="M693.65 625.99V624.57M692.15 624.57H695.15" stroke="#222" stroke-width="0.9" fill="none"/><rect x="683.30" y="625.99" width="20.7" height="21.26" fill="#C0C0C0" stroke="#383838" stroke-width="0.95"/><text class="L" x="693.65" y="617.77" font-size="14.67" text-anchor="middle" textLength="8.73" lengthAdjust="spacingAndGlyphs" fill="#000">c</text><text x="693.35" y="662.25" font-size="13.33" text-anchor="middle" fill="#000">N</text><path d="M693.65 647.25v3.4" stroke="#222" stroke-width="1"/><path d="M723.15 618.90V614.08M721.65 614.08H724.65" stroke="#222" stroke-width="0.9" fill="none"/><rect x="712.80" y="618.90" width="20.7" height="28.35" fill="#C0C0C0" stroke="#383838" stroke-width="0.95"/><text class="L" x="723.15" y="609.27" font-size="14.67" text-anchor="middle" textLength="18.32" lengthAdjust="spacingAndGlyphs" fill="#000">bc</text><text x="722.85" y="662.25" font-size="13.33" text-anchor="middle" fill="#000">P</text><path d="M723.15 647.25v3.4" stroke="#222" stroke-width="1"/><path d="M752.65 623.16V622.02M751.15 622.02H754.15" stroke="#222" stroke-width="0.9" fill="none"/><rect x="742.30" y="623.16" width="20.7" height="24.09" fill="#C0C0C0" stroke="#383838" stroke-width="0.95"/><text class="L" x="752.65" y="616.35" font-size="14.67" text-anchor="middle" textLength="18.32" lengthAdjust="spacingAndGlyphs" fill="#000">bc</text><text x="752.35" y="662.25" font-size="13.33" text-anchor="middle" fill="#000">NP</text><path d="M752.65 647.25v3.4" stroke="#222" stroke-width="1"/><path d="M782.15 619.47V613.52M780.65 613.52H783.65" stroke="#222" stroke-width="0.9" fill="none"/><rect x="771.80" y="619.47" width="20.7" height="27.78" fill="#C0C0C0" stroke="#383838" stroke-width="0.95"/><text class="L" x="782.15" y="609.27" font-size="14.67" text-anchor="middle" textLength="18.32" lengthAdjust="spacingAndGlyphs" fill="#000">bc</text><text x="781.85" y="662.25" font-size="13.33" text-anchor="middle" fill="#000">C</text><path d="M782.15 647.25v3.4" stroke="#222" stroke-width="1"/><path d="M811.65 617.20V603.88M810.15 603.88H813.15" stroke="#222" stroke-width="0.9" fill="none"/><rect x="801.30" y="617.20" width="20.7" height="30.05" fill="#C0C0C0" stroke="#383838" stroke-width="0.95"/><text class="L" x="811.65" y="599.63" font-size="14.67" text-anchor="middle" textLength="18.32" lengthAdjust="spacingAndGlyphs" fill="#000">bc</text><text x="811.35" y="662.25" font-size="13.33" text-anchor="middle" fill="#000">CN</text><path d="M811.65 647.25v3.4" stroke="#222" stroke-width="1"/><path d="M841.15 612.10V605.58M839.65 605.58H842.65" stroke="#222" stroke-width="0.9" fill="none"/><rect x="830.80" y="612.10" width="20.7" height="35.15" fill="#C0C0C0" stroke="#383838" stroke-width="0.95"/><text class="L" x="841.15" y="600.20" font-size="14.67" text-anchor="middle" textLength="9.59" lengthAdjust="spacingAndGlyphs" fill="#000">b</text><text x="840.85" y="662.25" font-size="13.33" text-anchor="middle" fill="#000">CP</text><path d="M841.15 647.25v3.4" stroke="#222" stroke-width="1"/><path d="M870.65 589.99V566.46M869.15 566.46H872.15" stroke="#222" stroke-width="0.9" fill="none"/><rect x="860.30" y="589.99" width="20.7" height="57.26" fill="#C0C0C0" stroke="#383838" stroke-width="0.95"/><text class="L" x="870.65" y="561.64" font-size="14.67" text-anchor="middle" textLength="8.73" lengthAdjust="spacingAndGlyphs" fill="#000">a</text><text x="870.35" y="662.25" font-size="13.33" text-anchor="middle" fill="#000">CNP</text><path d="M870.65 647.25v3.4" stroke="#222" stroke-width="1"/><path d="M649.80 472.59V647.25M646.30 647.25H885.80" stroke="#222" stroke-width="0.95" fill="none"/><path d="M648.00 636.37H649.80" stroke="#222" stroke-width="1"/><path d="M646.30 625.48H649.80" stroke="#222" stroke-width="1"/><path d="M648.00 614.60H649.80" stroke="#222" stroke-width="1"/><path d="M646.30 603.71H649.80" stroke="#222" stroke-width="1"/><path d="M648.00 592.83H649.80" stroke="#222" stroke-width="1"/><path d="M646.30 581.94H649.80" stroke="#222" stroke-width="1"/><path d="M648.00 571.06H649.80" stroke="#222" stroke-width="1"/><path d="M646.30 560.17H649.80" stroke="#222" stroke-width="1"/><path d="M648.00 549.28H649.80" stroke="#222" stroke-width="1"/><path d="M646.30 538.40H649.80" stroke="#222" stroke-width="1"/><path d="M648.00 527.51H649.80" stroke="#222" stroke-width="1"/><path d="M646.30 516.63H649.80" stroke="#222" stroke-width="1"/><path d="M648.00 505.75H649.80" stroke="#222" stroke-width="1"/><path d="M646.30 494.86H649.80" stroke="#222" stroke-width="1"/><path d="M648.00 483.98H649.80" stroke="#222" stroke-width="1"/><path d="M646.30 473.09H649.80" stroke="#222" stroke-width="1"/><text class="P" x="632.5500000000001" y="485.2" font-size="21.33" fill="#000">i</text><text x="655.42" y="498.60" font-size="21.33" textLength="45.5" lengthAdjust="spacingAndGlyphs" fill="#C00000">CNP</text><text x="700.73" y="506.90" font-size="13.33" textLength="39.2" lengthAdjust="spacingAndGlyphs" fill="#C00000">co-lim</text></g>
</svg>
</body></html>
